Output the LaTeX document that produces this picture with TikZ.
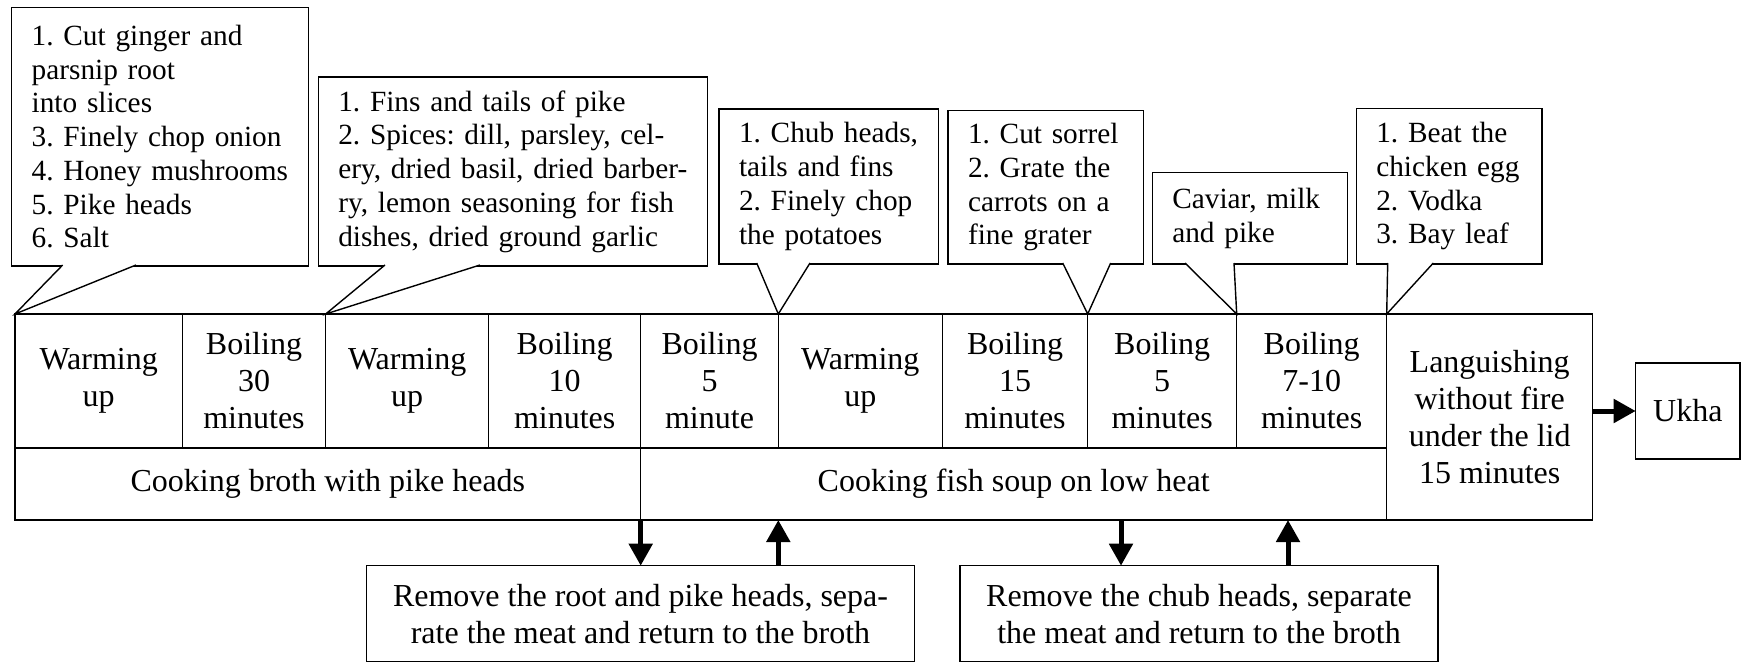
\documentclass[tikz,border=0pt]{standalone}
\usepackage{fontspec}
\setmainfont{Liberation Serif}
\usepackage{tikz}
\usetikzlibrary {
  positioning,
  calc,
  arrows.meta,
}
\frenchspacing
\hyphenpenalty=10000
\tikzset{
  stage/.style = {
    rectangle,
    draw = black,
    line width = 1.4pt,
    inner sep = 0pt,
    outer sep = 0pt,
    align = center,
    font = \fontsize{32}{37}\selectfont
  },
  cell/.style = {
    stage,
    minimum height = 134
  },
  note/.style = {
    rectangle,
    draw = black,
    fill = white,
    line width = 1.4pt,
    inner xsep = 20pt,
    inner ysep = 0pt,
    outer sep = 0pt,
    align = left,
    anchor = north west,
    font = \fontsize{29.3}{33.7}\selectfont
  },
  pointer/.style = {
    draw = black,
    fill = white,
    line width = 1.4pt
  },
  bigarrow/.style = {
    -{Triangle[length = 22pt, width = 23pt]},
    line width = 5pt
  },
}

\begin{document}
\begin{tikzpicture}[x = 1pt, y = -1pt]
  \useasboundingbox (0, 0) rectangle (1745, 663);

  % callouts
  \node[note, text width = 256.6, minimum width = 296.6, minimum height = 258.7] (n1) at (11.7, 7.3) {
    1. Cut ginger and\\
    parsnip root\\
    into slices\\
    3. Finely chop onion\\
    4. Honey mushrooms\\
    5. Pike heads\\
    6. Salt
  };
  \node[note, text width = 349, minimum width = 389, minimum height = 189] (n2) at (318.3, 77) {
    1. Fins and tails of pike\\
    2. Spices: dill, parsley, cel-\\
    ery, dried basil, dried barber-\\
    ry, lemon seasoning for fish\\
    dishes, dried ground garlic
  };
  \node[note, text width = 179.7, minimum width = 219.7, minimum height = 155] (n3) at (719, 109) {
    1. Chub heads,\\
    tails and fins\\
    2. Finely chop\\
    the potatoes
  };
  \node[note, text width = 155.7, minimum width = 195.7, minimum height = 153.3] (n4) at (948, 110.7) {
    1. Cut sorrel\\
    2. Grate the\\
    carrots on a\\
    fine grater
  };
  \node[note, text width = 155, minimum width = 195, minimum height = 91.3] (n5) at (1152.3, 172.7) {
    Caviar, milk\\
    and pike
  };
  \node[note, text width = 145.7, minimum width = 185.7, minimum height = 155.3] (n6) at (1356.3, 108.7) {
    1. Beat the\\
    chicken egg\\
    2. Vodka\\
    3. Bay leaf
  };

  % stages
  \node[cell, minimum width = 167.3, anchor = north west] (c1) at (15, 314) {Warming\\up};
  \node[cell, minimum width = 143.4, right = 0pt of c1] (c2) {Boiling\\30\\minutes};
  \node[cell, minimum width = 163, right = 0pt of c2] (c3) {Warming\\up};
  \node[cell, minimum width = 152, right = 0pt of c3] (c4) {Boiling\\10\\minutes};
  \node[cell, minimum width = 137.6, right = 0pt of c4] (c5) {Boiling\\5\\minute};
  \node[cell, minimum width = 164, right = 0pt of c5] (c6) {Warming\\up};
  \node[cell, minimum width = 145.4, right = 0pt of c6] (c7) {Boiling\\15\\minutes};
  \node[cell, minimum width = 149, right = 0pt of c7] (c8) {Boiling\\5\\minutes};
  \node[cell, minimum width = 150, right = 0pt of c8] (c9) {Boiling\\7-10\\minutes};

  \node[stage, minimum width = 625.7, minimum height = 72, anchor = north west] (b1) at (c1.south west) {Cooking broth with pike heads};
  \node[stage, minimum width = 746, minimum height = 72, right = 0pt of b1] (b2) {Cooking fish soup on low heat};

  \node[stage, minimum width = 206, minimum height = 206, anchor = north west] (lang) at (c9.north east) {Languishing\\without fire\\under the lid\\15 minutes};
  \node[stage, minimum width = 104.3, minimum height = 96.3, anchor = west] (ukha) at ($(lang.east) + (43, -6)$) {Ukha};

  \node[stage, minimum width = 547.8, minimum height = 96, anchor = north west] (r1) at (366.6, 565.7) {Remove the root and pike heads, sepa-\\rate the meat and return to the broth};
  \node[stage, minimum width = 478, minimum height = 96, anchor = north west] (r2) at (960, 565.7) {Remove the chub heads, separate\\the meat and return to the broth};

  % pointers
  \draw[pointer] ($(n1.south west) + (51, -1)$) -- (c1.north west) -- ($(n1.south west) + (124.3, -1)$);
  \draw[pointer] ($(n2.south west) + (66.7, -1)$) -- (c3.north west) -- ($(n2.south west) + (161.7, -1)$);
  \draw[pointer] ($(n3.south west) + (37.7, -1)$) -- (c6.north west) -- ($(n3.south west) + (91, -1)$);
  \draw[pointer] ($(n4.south west) + (114.7, -1)$) -- (c8.north west) -- ($(n4.south west) + (162.7, -1)$);
  \draw[pointer] ($(n5.south west) + (32.7, -1)$) -- (c9.north west) -- ($(n5.south west) + (81.7, -1)$);
  \draw[pointer] ($(n6.south west) + (31.4, -1)$) -- (lang.north west) -- ($(n6.south west) + (77, -1)$);

  % arrows
  \coordinate (r2in) at ($(r2.north) + (-78, 0)$);
  \coordinate (r2out) at ($(r2.north) + (89, 0)$);
  \draw[bigarrow] (b2.south west) -- (b2.south west |- r1.north);
  \draw[bigarrow] (r1.north -| c6.west) -- (c6.west |- b2.south);
  \draw[bigarrow] (r2in |- b2.south) -- (r2in);
  \draw[bigarrow] (r2out) -- (r2out |- b2.south);
  \draw[bigarrow] (lang.east |- ukha.west) -- (ukha.west);
\end{tikzpicture}
\end{document}
